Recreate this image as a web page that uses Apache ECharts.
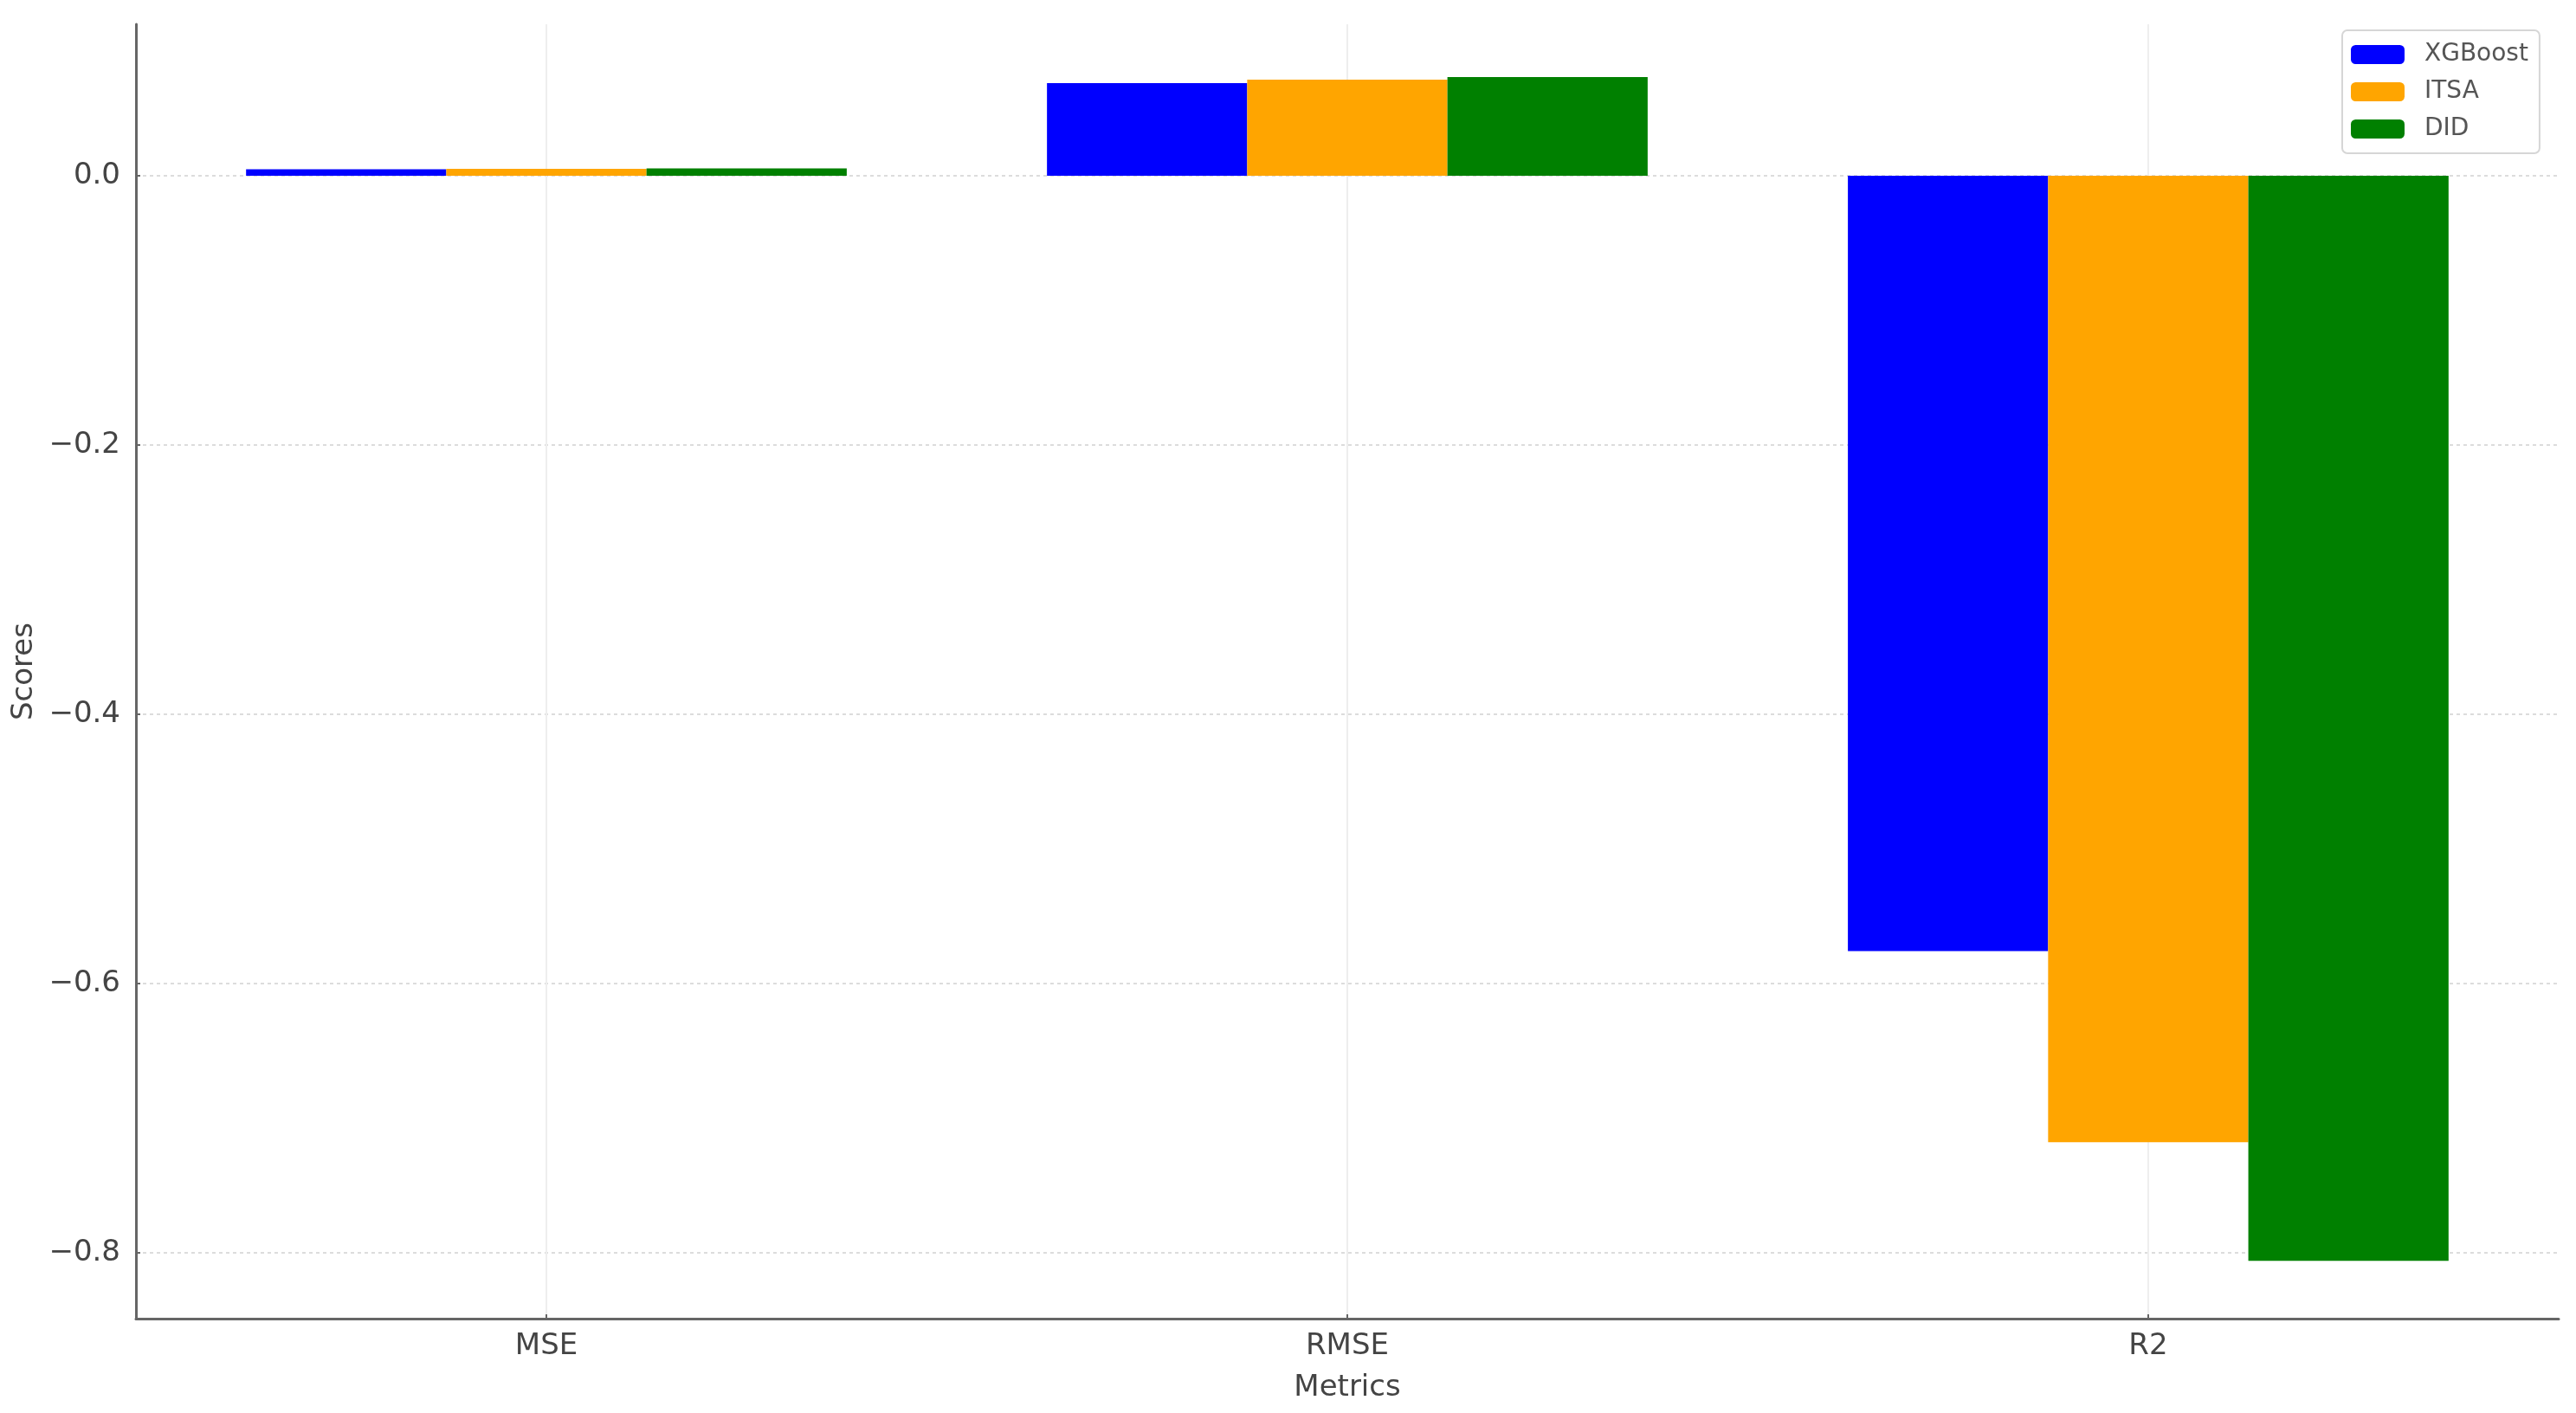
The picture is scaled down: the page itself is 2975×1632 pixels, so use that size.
<!DOCTYPE html>
<html>
<head>
<meta charset="utf-8">
<script src="https://cdn.jsdelivr.net/npm/echarts@6/dist/echarts.min.js"></script>
<style>
html,body{margin:0;padding:0;background:#fff;}
#chart{width:2975px;height:1632px;}
</style>
</head>
<body>
<div id="chart"></div>
<script>
const categories = ['MSE', 'RMSE', 'R2'];
const seriesNames = ['XGBoost', 'ITSA', 'DID'];
const xgboost = [0.0047, 0.0688, -0.576];
const itsa = [0.0051, 0.0714, -0.718];
const did = [0.0054, 0.0733, -0.806];
const yTicks = [0, -0.2, -0.4, -0.6, -0.8];
const xTicks = [0, 1, 2];

const colors = ['#0000ff', '#ffa500', '#008000'];
const values = [xgboost, itsa, did];

const chart = echarts.init(document.getElementById('chart'));
const fontFamily = 'DejaVu Sans';

function fmtY(v) {
  const s = Math.abs(v).toFixed(1);
  return (v < -1e-9 ? '\u2212' : '') + s;
}

const option = {
  backgroundColor: '#ffffff',
  animation: false,
  color: colors,
  grid: { left: 157, right: 20, top: 28, bottom: 109 },
  legend: {
    orient: 'vertical',
    left: 2705,
    top: 35,
    padding: [14, 13, 14, 10],
    itemWidth: 62,
    itemHeight: 22,
    itemGap: 15,
    borderColor: '#d6d6d6',
    borderWidth: 2,
    borderRadius: 6,
    backgroundColor: '#ffffff',
    icon: 'roundRect',
    textStyle: { fontFamily: fontFamily, fontSize: 28, color: '#555', padding: [0, 0, 0, 18] },
    data: seriesNames
  },
  xAxis: {
    type: 'value',
    min: -0.5125,
    max: 2.5125,
    name: 'Metrics',
    nameLocation: 'middle',
    nameGap: 63,
    nameTextStyle: { fontFamily: fontFamily, fontSize: 34, color: '#444' },
    axisLine: { show: true, onZero: false, lineStyle: { color: '#666', width: 3 } },
    axisTick: { show: true, inside: true, length: 5, customValues: xTicks, lineStyle: { color: '#666', width: 2 } },
    axisLabel: {
      customValues: xTicks,
      margin: 15,
      fontFamily: fontFamily, fontSize: 34, color: '#444',
      formatter: function (v) { return categories[Math.round(v)]; }
    },
    splitLine: { show: true, lineStyle: { color: '#eeeeee', width: 2, type: 'solid' } }
  },
  yAxis: {
    type: 'value',
    min: -0.849,
    max: 0.1125,
    name: 'Scores',
    nameLocation: 'middle',
    nameGap: 112,
    nameTextStyle: { fontFamily: fontFamily, fontSize: 34, color: '#444' },
    axisLine: { show: true, onZero: false, lineStyle: { color: '#666', width: 3 } },
    axisTick: { show: true, inside: true, length: 5, customValues: yTicks, lineStyle: { color: '#666', width: 2 } },
    axisLabel: {
      customValues: yTicks,
      margin: 18,
      fontFamily: fontFamily, fontSize: 34, color: '#444',
      formatter: fmtY
    },
    splitLine: { show: true, lineStyle: { color: '#dcdcdc', width: 2, type: [4, 4] } }
  },
  series: seriesNames.map(function (name, k) {
    return {
      name: name,
      type: 'bar',
      barGap: '0%',
      barCategoryGap: '25%',
      itemStyle: { color: colors[k] },
      data: values[k].map(function (v, i) { return [i, v]; })
    };
  })
};
chart.setOption(option);
</script>
</body>
</html>
